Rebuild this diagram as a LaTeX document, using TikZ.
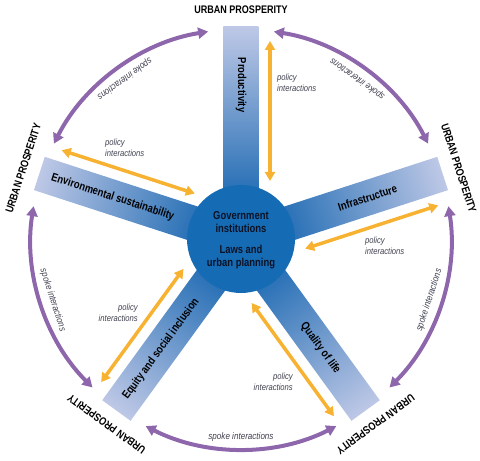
\documentclass[tikz,border=0pt]{standalone}
\usepackage{fontspec}
\setmainfont{Liberation Sans}
\newfontfamily\condb[FakeStretch=0.82]{Liberation Sans}
\newfontfamily\condi[FakeStretch=0.85]{Liberation Sans}
\usetikzlibrary{arrows.meta}
\definecolor{hubblue}{RGB}{22,108,180}
\definecolor{spokedark}{RGB}{28,105,178}
\definecolor{spokelight}{RGB}{190,200,230}
\definecolor{purp}{RGB}{142,102,172}
\definecolor{orng}{RGB}{247,178,50}
\definecolor{lbl}{RGB}{62,64,78}
\definecolor{hubtext}{RGB}{12,18,38}
\begin{document}
\begin{tikzpicture}[x=1pt,y=1pt,
  up/.style={font=\condb\bfseries\fontsize{11}{12}\selectfont, text=black, inner sep=0},
  spk/.style={font=\condb\bfseries\fontsize{11.5}{12}\selectfont, text=black, inner sep=0},
  hubt/.style={font=\condb\bfseries\fontsize{11.5}{12.5}\selectfont, text=hubtext, inner sep=0, align=center},
  pol/.style={font=\condi\itshape\fontsize{9}{11}\selectfont, text=lbl, inner sep=0},
  sint/.style={font=\condi\itshape\fontsize{9.5}{11}\selectfont, text=lbl, inner sep=0},
  purparc/.style={draw=purp, line width=4pt, {Triangle[length=10pt,width=11pt]}-{Triangle[length=10pt,width=11pt]}},
  polarr/.style={draw=orng, line width=3.5pt, {Triangle[length=9pt,width=10pt]}-{Triangle[length=9pt,width=10pt]}},
  hub/.style={circle, fill=hubblue, minimum size=108pt, inner sep=0}
]
\useasboundingbox (-241,-222) rectangle (239,239);
% spokes
\foreach \a in {90,18,-54,-126,162}{
  \begin{scope}[transform canvas={rotate=\a}]
    \shade[left color=spokedark,right color=spokelight] (35,-17.5) rectangle (212,17.5);
  \end{scope}
}
% hub
\node[hub] (hub) at (0,0) {};
\node[hubt] (gov) at (0,17) {Government\\institutions};
\node[hubt] (laws) at (0,-18) {Laws and\\urban planning};
% spoke labels
\node[spk, rotate=-90] (lprod) at (90:154) {Productivity};
\node[spk, rotate=18] (linfra) at (18:133) {Infrastructure};
\node[spk, rotate=-54] (lqual) at (-54:135) {Quality of life};
\node[spk, rotate=54] (lequ) at (-126:136) {Equity and social inclusion};
\node[spk, rotate=-18] (lenv) at (162:135) {Environmental sustainability};
% outer purple arcs
\foreach \a [count=\i] in {90,18,-54,-126,162}{
  \coordinate (s\i) at (\a-9:210);
  \coordinate (e\i) at (\a-63:210);
  \draw[purparc] (s\i) arc[start angle=\a-9, end angle=\a-63, radius=210];
}
% policy arrows
\foreach \a [count=\i] in {90,18,-54,-126,162}{
  \begin{scope}[rotate=\a]
    \coordinate (pin\i) at (58,-29);
    \coordinate (pout\i) at (198,-29);
  \end{scope}
  \draw[polarr] (pin\i) -- (pout\i);
}
% URBAN PROSPERITY
\foreach \a/\r [count=\i] in {90/0,18/-72,-54/-144,-126/-216,162/72}
  \node[up, rotate=\r] (up\i) at (\a:229) {URBAN PROSPERITY};
% spoke interactions
\foreach \m [count=\i] in {54,-18,-90,-162,126}
  \node[sint, rotate=\m+90] (si\i) at (\m:198) {spoke interactions};
% policy interactions labels
\node[pol, anchor=west, align=left] (p1) at (36,156) {policy\\interactions};
\node[pol, anchor=west, align=left] (p2) at (124,-7) {policy\\interactions};
\node[pol, anchor=east, align=right] (p3) at (52,-143) {policy\\interactions};
\node[pol, anchor=east, align=right] (p4) at (-103,-73.5) {policy\\interactions};
\node[pol, anchor=west, align=left] (p5) at (-136,91) {policy\\interactions};
\end{tikzpicture}
\end{document}
